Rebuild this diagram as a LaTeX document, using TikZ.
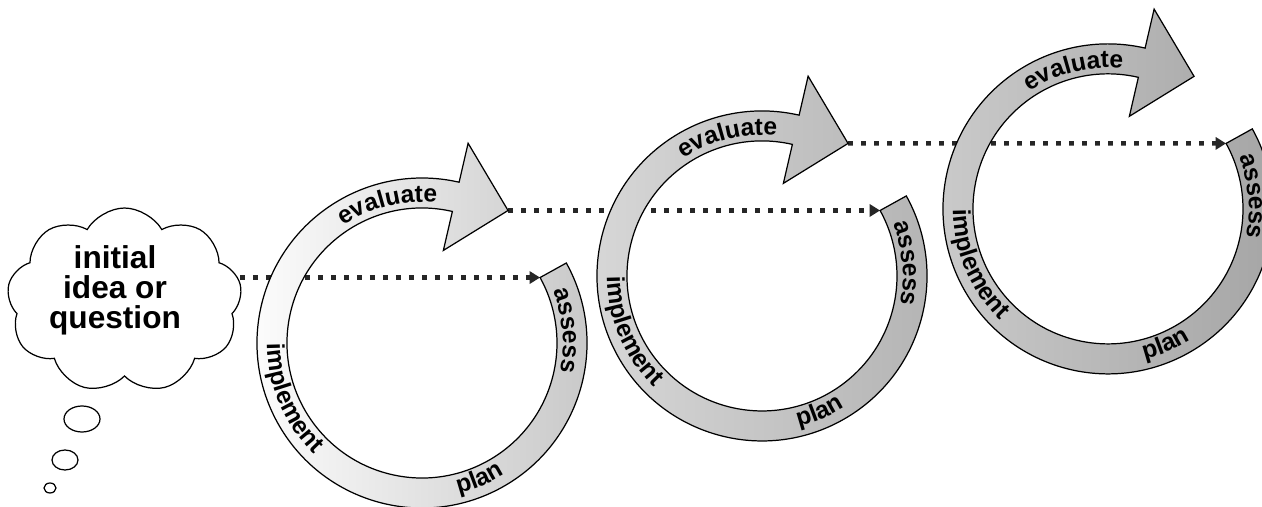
\documentclass[tikz,border=0pt]{standalone}
\usepackage{fontspec}
\setmainfont{Liberation Sans}
\usetikzlibrary{shapes.symbols,shapes.geometric,decorations.text,arrows.meta,calc}

% fonts for the ring labels and the thought cloud
\newcommand\ringfont{\fontsize{14}{14}\selectfont\bfseries}
\newcommand\cloudfont{\fontsize{18}{17}\selectfont\bfseries}

\tikzset{
  ringline/.style={draw=black, line width=0.7pt},
  link/.style={line width=2.6pt, black!85, dash pattern=on 2.7pt off 4.7pt,
    -{Triangle[length=6pt,width=7pt]}},
  bubble/.style={ellipse, draw=black, line width=0.7pt, fill=white, inner sep=0pt, outer sep=0pt},
  thought/.style={cloud, cloud puffs=9, cloud puff arc=120, draw=black, line width=0.7pt,
    fill=white, inner sep=0pt, outer sep=0pt},
}

% one circular arrow: tail at 29 deg, running clockwise to a head at 77 deg
\newcommand\cyclering[3]{%
  \path[ringline, left color=#2, right color=#3]
    ([shift={(29:165)}]#1) arc[start angle=29, end angle=-283, radius=165]
    -- ([shift={(77:205)}]#1) -- ([shift={(57:158)}]#1) -- ([shift={(77:95)}]#1)
    -- ([shift={(77:135)}]#1) arc[start angle=-283, end angle=29, radius=135] -- cycle;}

% label reading clockwise (tops outward)
\newcommand\cwlabel[3]{%
  \path[decorate, decoration={text along path, text align=center, text={|\ringfont|#3}}]
    ([shift={(#2+50:141)}]#1) arc[start angle=#2+50, end angle=#2-50, radius=141];}
% label reading counter-clockwise (tops inward)
\newcommand\ccwlabel[3]{%
  \path[decorate, decoration={text along path, text align=center, text={|\ringfont|#3}}]
    ([shift={(#2-50:155)}]#1) arc[start angle=#2-50, end angle=#2+50, radius=155];}

\begin{document}
\begin{tikzpicture}[x=0.02cm, y=0.02cm]
  \useasboundingbox (0,0) rectangle (1262,507);
  \clip (0,0) rectangle (1262,507);

  % centres of the three cycles
  \coordinate (c1) at (422,164);
  \coordinate (c2) at (762,231.06);
  \coordinate (c3) at (1108,298.12);
  % tail corners and arrow points
  \foreach \k in {1,2,3} {
    \coordinate (t\k) at ([shift={(29:135)}]c\k);
    \coordinate (h\k) at ([shift={(57:158)}]c\k);
  }

  % thought cloud with its bubbles
  \node[thought, minimum width=4.7cm, minimum height=3.7cm] (idea) at (124.5,206.5) {};
  \node[font=\cloudfont, align=center, inner sep=0pt] (ideatext) at (115,217) {initial\\idea or\\question};
  \node[bubble, minimum width=0.72cm, minimum height=0.52cm] (b1) at (82,88) {};
  \node[bubble, minimum width=0.52cm, minimum height=0.40cm] (b2) at (65,47) {};
  \node[bubble, minimum width=0.24cm, minimum height=0.20cm] (b3) at (50,19) {};

  % dotted links, passing behind the rings
  \draw[link] (idea.east |- t1) -- (t1);
  \draw[link] (h1) -- (t2);
  \draw[link] (h2) -- (t3);

  % the three cycles, getting darker
  \cyclering{c1}{white}{gray!45}
  \cyclering{c2}{gray!30}{gray!60}
  \cyclering{c3}{gray!40}{gray!72}

  \foreach \k in {1,2,3} {
    \cwlabel{c\k}{104}{evaluate}
    \cwlabel{c\k}{5}{assess}
    \ccwlabel{c\k}{203}{implement}
    \ccwlabel{c\k}{-67}{plan}
  }
\end{tikzpicture}
\end{document}
